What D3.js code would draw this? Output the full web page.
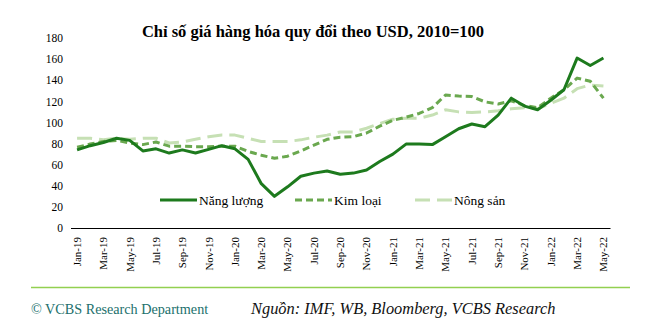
<!DOCTYPE html>
<html>
<head>
<meta charset="utf-8">
<script src="https://cdn.jsdelivr.net/npm/d3@7"></script>
<style>
  body { margin: 0; background: #fff; }
  svg { display: block; font-family: "Liberation Serif", "Times New Roman", serif; }
</style>
</head>
<body>
<div id="chart"></div>
<script>
// months Jan-19 .. May-22
var months = ["Jan-19","Feb-19","Mar-19","Apr-19","May-19","Jun-19","Jul-19","Aug-19","Sep-19","Oct-19","Nov-19","Dec-19",
  "Jan-20","Feb-20","Mar-20","Apr-20","May-20","Jun-20","Jul-20","Aug-20","Sep-20","Oct-20","Nov-20","Dec-20",
  "Jan-21","Feb-21","Mar-21","Apr-21","May-21","Jun-21","Jul-21","Aug-21","Sep-21","Oct-21","Nov-21","Dec-21",
  "Jan-22","Feb-22","Mar-22","Apr-22","May-22"];

var nangLuong = [74,78,81,85,83,73,75,71,74,71,74.5,78,75,65,42,30,39,49,52,54,51,52,55,63,70,79.5,79.5,79,86.5,94,98.5,96,107,123,115.5,112,121,131,161,154,161];
var kimLoai = [76.5,79.5,82,83,80.5,79,81.5,77.5,77.5,77,77,77.5,77.5,72.5,69,66,68,73,78.5,84,86,86.5,90,96.5,102,105,108.5,114,126,125,124.5,119.5,117.5,120.5,116,114,123,131,142,139,123];
var nongSan = [85,85,83.5,85,84,85,85,80.5,81.5,84,86.5,88,88,85,82,82,82,83.5,86,88,91,91,94.5,99,103,104,104,107,112,110,109.5,110,111,113,114,113,118,123,132,135.5,134.5];

var yTicks = [0,20,40,60,80,100,120,140,160,180];

var seriesList = [
  { name: "Năng lượng", values: nangLuong, color: "#1d7a1d", width: 3, dash: null },
  { name: "Kim loại", values: kimLoai, color: "#6aa84f", width: 3, dash: "7,4" },
  { name: "Nông sản", values: nongSan, color: "#c6e0b4", width: 3, dash: "15,7" }
];

var width = 654, height = 335;
var svg = d3.select("#chart").append("svg").attr("width", width).attr("height", height);

var x = d3.scaleBand().domain(months).range([70.5, 610]);
var y = d3.scaleLinear().domain([0, 180]).range([228, 38]);

// title
svg.append("text")
  .attr("x", 313).attr("y", 37)
  .attr("text-anchor", "middle")
  .style("font-size", "16.5px").style("font-weight", "bold")
  .text("Chỉ số giá hàng hóa quy đổi theo USD, 2010=100");

// y axis (labels only)
var yAxis = svg.append("g")
  .attr("transform", "translate(63,0)")
  .call(d3.axisLeft(y).tickValues(yTicks).tickSize(0).tickPadding(0))
  .attr("font-family", null);
yAxis.select(".domain").remove();
yAxis.selectAll("text").style("font-size", "11.5px").attr("fill", "#000");

// x axis
var xAxis = svg.append("g")
  .attr("transform", "translate(0," + y(0) + ")")
  .call(d3.axisBottom(x).tickValues(months.filter(function(d, i) { return i % 2 == 0; })).tickSize(0))
  .attr("font-family", null);
xAxis.select(".domain").attr("stroke", "#000").attr("stroke-width", 1.2);
xAxis.selectAll("text")
  .style("font-size", "11px").attr("fill", "#000")
  .attr("text-anchor", "end")
  .attr("transform", "rotate(-90)")
  .attr("x", -9).attr("y", 0).attr("dy", "0.35em");

// lines
var line = d3.line()
  .x(function(d, i) { return x(months[i]) + x.bandwidth() / 2; })
  .y(function(d) { return y(d); });

// draw light first so dark is on top
[2, 1, 0].forEach(function(k) {
  var s = seriesList[k];
  svg.append("path")
    .datum(s.values)
    .attr("fill", "none")
    .attr("stroke", s.color)
    .attr("stroke-width", s.width)
    .attr("stroke-dasharray", s.dash)
    .attr("stroke-linejoin", "round")
    .attr("d", line);
});

// legend
var legendX = [160, 295, 415];
seriesList.forEach(function(s, i) {
  var g = svg.append("g").attr("transform", "translate(" + legendX[i] + ",200)");
  g.append("line").attr("x1", 0).attr("x2", 37).attr("y1", 0).attr("y2", 0)
    .attr("stroke", s.color).attr("stroke-width", s.width).attr("stroke-dasharray", s.dash);
  g.append("text").attr("x", 39).attr("y", 4.5)
    .style("font-size", "13.5px").text(s.name);
});

// footer
svg.append("line").attr("x1", 31).attr("x2", 630).attr("y1", 287.5).attr("y2", 287.5)
  .attr("stroke", "#92d050").attr("stroke-width", 1.3);
svg.append("text").attr("x", 31).attr("y", 314)
  .style("font-size", "14.2px").attr("fill", "#21706c")
  .text("© VCBS Research Department");
svg.append("text").attr("x", 251).attr("y", 314)
  .style("font-size", "16.4px").style("font-style", "italic").attr("fill", "#111")
  .text("Nguồn: IMF, WB, Bloomberg, VCBS Research");
</script>
</body>
</html>
